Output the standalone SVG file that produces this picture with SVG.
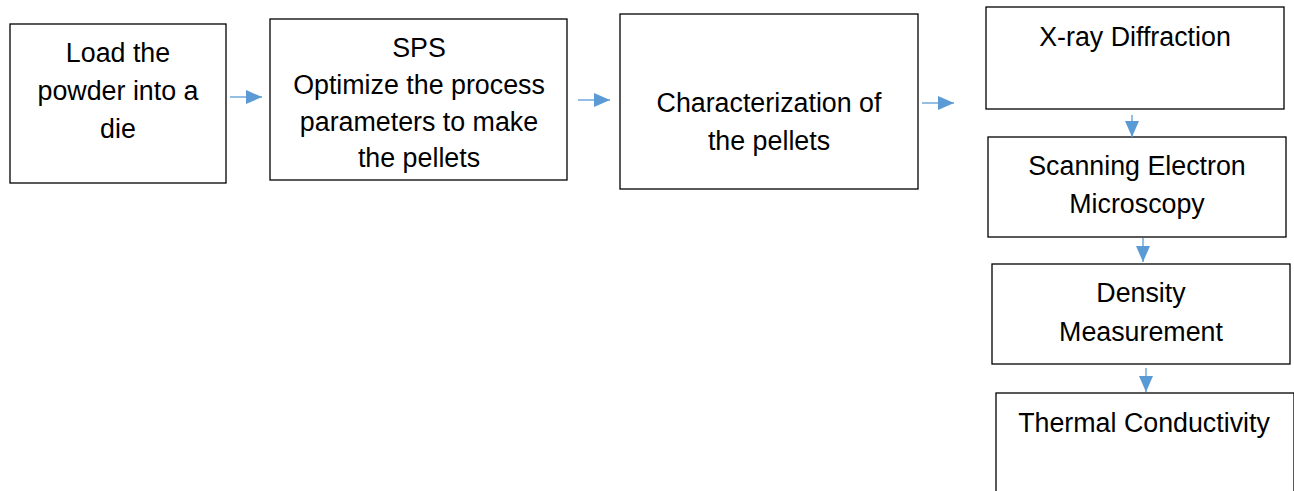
<svg xmlns="http://www.w3.org/2000/svg" width="1294" height="491" viewBox="0 0 1294 491">
<style>
.box{fill:#fff;stroke:#000;stroke-width:1.3}
.t{font-family:"Liberation Sans",Arial,sans-serif;font-size:26.8px;fill:#000;text-anchor:middle}
.c{stroke:#5b9bd5;stroke-width:1.3;fill:none}
</style>
<defs>
<marker id="ah" markerWidth="16" markerHeight="14" refX="16" refY="7" orient="auto" markerUnits="userSpaceOnUse">
<path d="M0,0 L16,7 L0,14 Z" fill="#5b9bd5"/>
</marker>
</defs>
<rect width="1294" height="491" fill="#fff"/>
<g id="n1"><rect class="box" x="10" y="24" width="216" height="159"/>
<text class="t" x="118" y="62">Load the</text><text class="t" x="118" y="100">powder into a</text><text class="t" x="118" y="138">die</text></g>
<g id="n2"><rect class="box" x="270" y="19" width="297" height="161"/>
<text class="t" x="419" y="57">SPS</text><text class="t" x="419" y="94">Optimize the process</text><text class="t" x="419" y="131">parameters to make</text><text class="t" x="419" y="167">the pellets</text></g>
<g id="n3"><rect class="box" x="620" y="14" width="298" height="175"/>
<text class="t" x="769" y="112">Characterization of</text><text class="t" x="769" y="150">the pellets</text></g>
<g id="n4"><rect class="box" x="986" y="7" width="298" height="102"/>
<text class="t" x="1135" y="46">X-ray Diffraction</text></g>
<g id="n5"><rect class="box" x="988" y="137" width="298" height="100"/>
<text class="t" x="1137" y="175">Scanning Electron</text><text class="t" x="1137" y="213">Microscopy</text></g>
<g id="n6"><rect class="box" x="992" y="264" width="298" height="100"/>
<text class="t" x="1141" y="302">Density</text><text class="t" x="1141" y="341">Measurement</text></g>
<g id="n7"><rect class="box" x="996" y="393" width="298" height="110"/>
<text class="t" x="1144" y="432">Thermal Conductivity</text></g>
<g id="connectors">
<line class="c" x1="230" y1="97" x2="262" y2="97" marker-end="url(#ah)"/>
<line class="c" x1="578" y1="100" x2="610" y2="100" marker-end="url(#ah)"/>
<line class="c" x1="922" y1="103" x2="954" y2="103" marker-end="url(#ah)"/>
<line class="c" x1="1132" y1="115" x2="1132" y2="137" marker-end="url(#ah)"/>
<line class="c" x1="1143" y1="238" x2="1143" y2="262" marker-end="url(#ah)"/>
<line class="c" x1="1146" y1="368" x2="1146" y2="392" marker-end="url(#ah)"/>
</g>
</svg>
